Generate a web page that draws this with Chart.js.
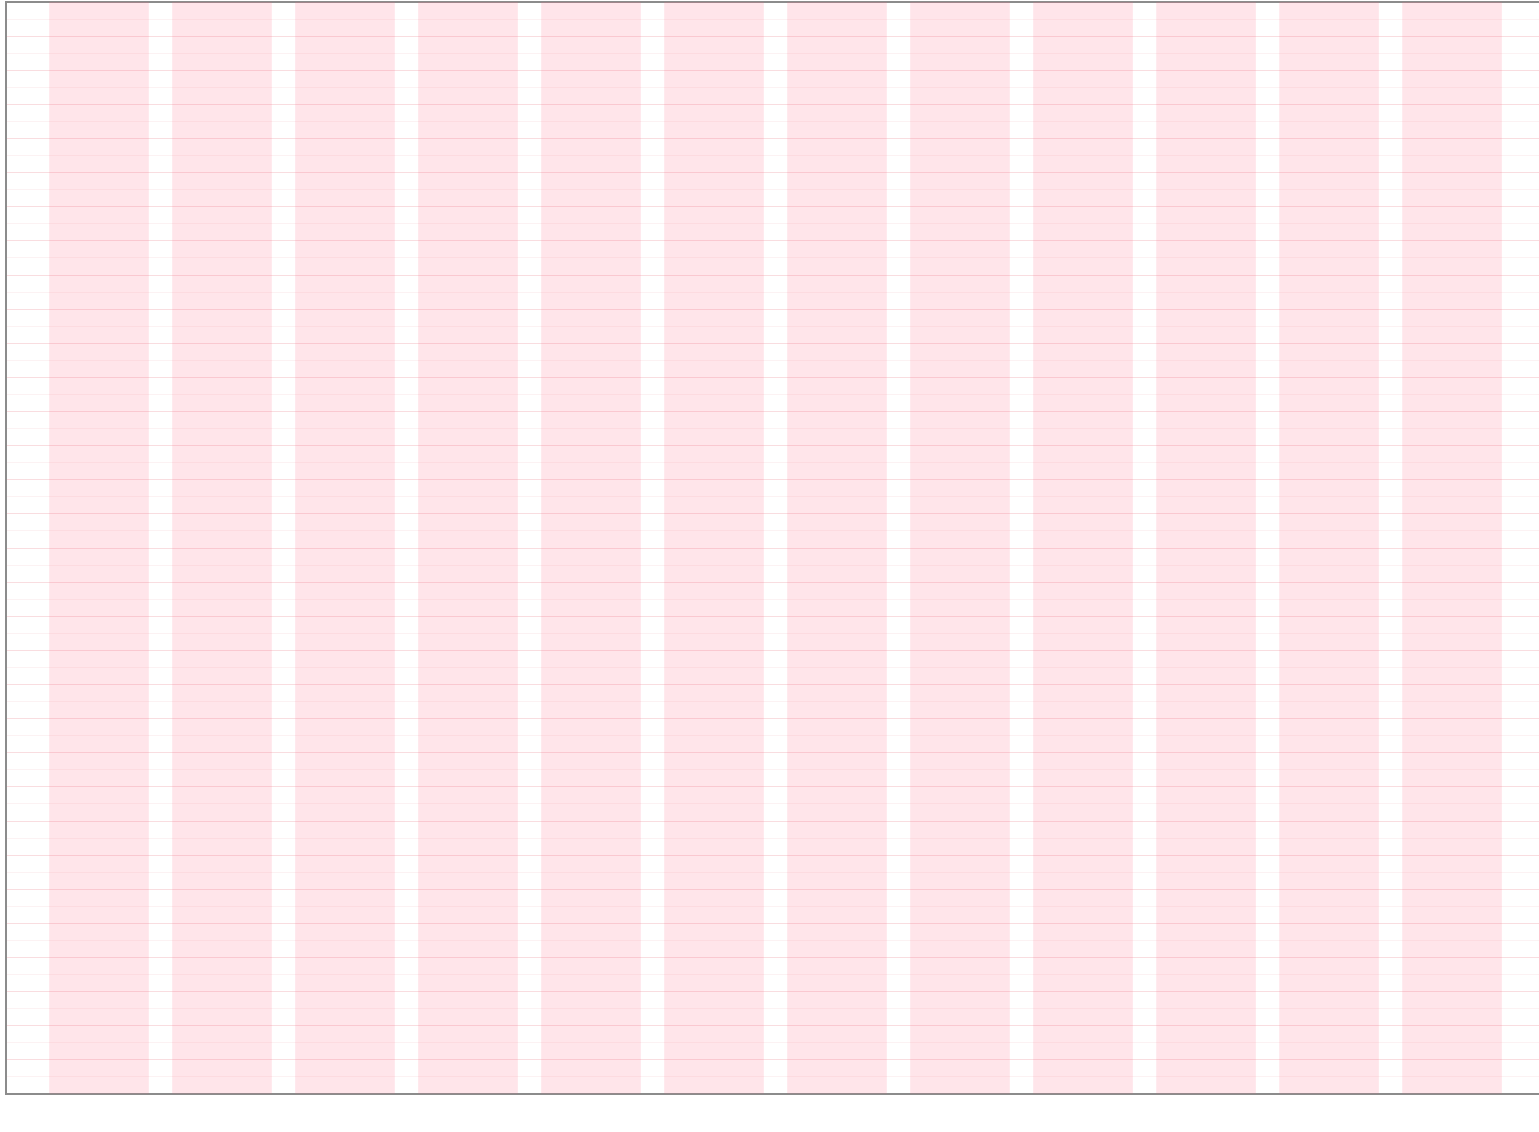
<!doctype html>
<html>

<head>
    <title>Bar Chart</title>
    <script src="https://cdn.jsdelivr.net/npm/chart.js"></script>
    <style>
        body { margin: 0; background: #fff; overflow: hidden; }
    </style>
</head>

<body>
    <canvas id="myChart" width="1539" height="1132"></canvas>
    <script>
        const categories = ['1', '2', '3', '4', '5', '6', '7', '8', '9', '10', '11', '12'];
        const positions = [0, 1, 2, 3, 4, 5, 6, 7, 8, 9, 10, 11];
        const values = [64, 64, 64, 64, 64, 64, 64, 64, 64, 64, 64, 64];
        const yTicks = { min: 0, max: 64, step: 1 };

        const ctx = document.getElementById('myChart').getContext('2d');
        const myChart = new Chart(ctx, {
            type: 'bar',
            data: {
                labels: categories,
                datasets: [{
                    label: 'series',
                    data: positions.map((x, i) => ({ x: x, y: values[i] })),
                    backgroundColor: 'rgba(255, 99, 132, 0.17)',
                    borderWidth: 0,
                    barPercentage: 0.9,
                    categoryPercentage: 0.9
                }]
            },
            options: {
                responsive: false,
                animation: false,
                layout: {
                    padding: { left: 6, top: 2, right: 0, bottom: 38 }
                },
                plugins: {
                    legend: { display: false },
                    tooltip: { enabled: false }
                },
                scales: {
                    x: {
                        type: 'linear',
                        offset: false,
                        min: -0.756,
                        max: 11.707,
                        // keep only whole-number ticks so the bar width comes from the data spacing
                        afterBuildTicks: s => { s.ticks = s.ticks.filter(t => Number.isInteger(t.value)); },
                        grid: { display: false, drawTicks: false },
                        ticks: { display: false, stepSize: 1 },
                        border: { display: true, color: '#8c8c8c', width: 2 }
                    },
                    xTop: {
                        type: 'linear',
                        position: 'top',
                        offset: false,
                        grid: { display: false, drawTicks: false },
                        ticks: { display: false },
                        border: { display: true, color: '#8c8c8c', width: 2 }
                    },
                    y: {
                        min: yTicks.min,
                        max: yTicks.max,
                        grid: {
                            drawTicks: false,
                            // every other line a bit darker
                            color: c => c.tick && c.tick.value % 2 === 0 ? 'rgba(235, 150, 160, 0.32)' : 'rgba(235, 160, 170, 0.14)'
                        },
                        ticks: { display: false, stepSize: yTicks.step },
                        border: { display: true, color: '#8c8c8c', width: 2 }
                    }
                }
            }
        });
    </script>
</body>

</html>
